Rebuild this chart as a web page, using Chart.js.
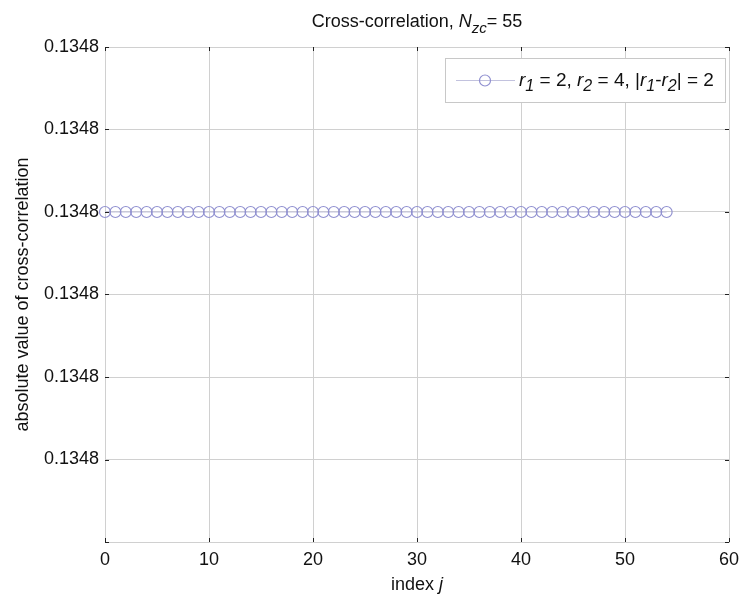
<!DOCTYPE html>
<html>
<head>
<meta charset="utf-8">
<script src="https://cdn.jsdelivr.net/npm/chart.js@4/dist/chart.umd.min.js"></script>
<style>
  html, body { margin: 0; padding: 0; background: #fff; }
  #wrap { width: 742px; height: 594px; position: relative; }
</style>
</head>
<body>
<div id="wrap"><canvas id="c"></canvas></div>
<script>
// lag index j
const indexJ = [0, 1, 2, 3, 4, 5, 6, 7, 8, 9, 10, 11, 12, 13, 14, 15, 16, 17, 18, 19,
  20, 21, 22, 23, 24, 25, 26, 27, 28, 29, 30, 31, 32, 33, 34, 35, 36, 37, 38, 39,
  40, 41, 42, 43, 44, 45, 46, 47, 48, 49, 50, 51, 52, 53, 54];

// |cross-correlation| between ZC roots r1 = 2 and r2 = 4, N_zc = 55
const crossCorr = [0.13483997, 0.13483997, 0.13483997, 0.13483997, 0.13483997,
  0.13483997, 0.13483997, 0.13483997, 0.13483997, 0.13483997, 0.13483997,
  0.13483997, 0.13483997, 0.13483997, 0.13483997, 0.13483997, 0.13483997,
  0.13483997, 0.13483997, 0.13483997, 0.13483997, 0.13483997, 0.13483997,
  0.13483997, 0.13483997, 0.13483997, 0.13483997, 0.13483997, 0.13483997,
  0.13483997, 0.13483997, 0.13483997, 0.13483997, 0.13483997, 0.13483997,
  0.13483997, 0.13483997, 0.13483997, 0.13483997, 0.13483997, 0.13483997,
  0.13483997, 0.13483997, 0.13483997, 0.13483997, 0.13483997, 0.13483997,
  0.13483997, 0.13483997, 0.13483997, 0.13483997, 0.13483997, 0.13483997,
  0.13483997, 0.13483997];

// axis ticks
const xTicks = [0, 10, 20, 30, 40, 50, 60];
const yTicks = [0.13483993, 0.13483994, 0.13483995, 0.13483996, 0.13483997, 0.13483998, 0.13483999];

const FONT = "'Liberation Sans', Arial, Helvetica, sans-serif";
const GRID = '#d0d0d0';
const LINE_COLOR = '#c2c2de';
const MARK_COLOR = '#9090d0';

// draws a run of text pieces; each piece may be italic and/or a subscript
function richWidth(ctx, parts, size, subSize) {
  let w = 0;
  for (const p of parts) {
    ctx.font = (p.it ? 'italic ' : '') + (p.sub ? subSize : size) + 'px ' + FONT;
    w += ctx.measureText(p.t).width;
  }
  return w;
}
function drawRich(ctx, parts, x, y, size, subSize, subDrop) {
  ctx.textAlign = 'left';
  ctx.textBaseline = 'alphabetic';
  for (const p of parts) {
    ctx.font = (p.it ? 'italic ' : '') + (p.sub ? subSize : size) + 'px ' + FONT;
    ctx.fillText(p.t, x, p.sub ? y + subDrop : y);
    x += ctx.measureText(p.t).width;
  }
}

const titleParts = [
  { t: 'Cross-correlation, ' }, { t: 'N', it: true }, { t: 'zc', it: true, sub: true }, { t: '= 55' }
];
const legendParts = [
  { t: 'r', it: true }, { t: '1', it: true, sub: true }, { t: ' = 2, ' },
  { t: 'r', it: true }, { t: '2', it: true, sub: true }, { t: ' = 4, |' },
  { t: 'r', it: true }, { t: '1', it: true, sub: true }, { t: '-' },
  { t: 'r', it: true }, { t: '2', it: true, sub: true }, { t: '| = 2' }
];

const decorations = {
  id: 'decorations',
  afterDraw(chart) {
    const ctx = chart.ctx;
    const a = chart.chartArea;
    const xs = chart.scales.x, ys = chart.scales.y;
    ctx.save();

    // inward tick marks on all four sides
    ctx.strokeStyle = '#222';
    ctx.lineWidth = 1;
    ctx.beginPath();
    for (const v of xTicks) {
      const px = Math.round(xs.getPixelForValue(v)) + 0.5;
      ctx.moveTo(px, a.bottom); ctx.lineTo(px, a.bottom - 4);
      ctx.moveTo(px, a.top); ctx.lineTo(px, a.top + 4);
    }
    for (const v of yTicks) {
      const py = Math.round(ys.getPixelForValue(v)) + 0.5;
      ctx.moveTo(a.left, py); ctx.lineTo(a.left + 4, py);
      ctx.moveTo(a.right, py); ctx.lineTo(a.right - 4, py);
    }
    ctx.stroke();

    ctx.fillStyle = '#111';
    const cx = (a.left + a.right) / 2;

    // title
    const tw = richWidth(ctx, titleParts, 18, 15);
    drawRich(ctx, titleParts, cx - tw / 2, 27, 18, 15, 6);

    // x axis label
    const xl = [{ t: 'index ' }, { t: 'j', it: true }];
    const xw = richWidth(ctx, xl, 18, 18);
    drawRich(ctx, xl, cx - xw / 2, 590, 18, 18, 0);

    // y axis label
    ctx.save();
    ctx.translate(28, (a.top + a.bottom) / 2);
    ctx.rotate(-Math.PI / 2);
    ctx.font = '18px ' + FONT;
    ctx.textAlign = 'center';
    ctx.textBaseline = 'alphabetic';
    ctx.fillText('absolute value of cross-correlation', 0, 0);
    ctx.restore();

    // legend
    const lx = 445, ly = 58, lw = 280, lh = 44;
    ctx.fillStyle = '#fff';
    ctx.fillRect(lx, ly, lw, lh);
    ctx.strokeStyle = '#c8c8c8';
    ctx.strokeRect(lx + 0.5, ly + 0.5, lw, lh);
    const my = ly + lh / 2 + 0.5;
    ctx.strokeStyle = LINE_COLOR;
    ctx.beginPath();
    ctx.moveTo(lx + 11, my); ctx.lineTo(lx + 70, my);
    ctx.stroke();
    ctx.strokeStyle = MARK_COLOR;
    ctx.lineWidth = 1.2;
    ctx.beginPath();
    ctx.arc(lx + 40, my, 5.5, 0, Math.PI * 2);
    ctx.stroke();
    ctx.fillStyle = '#111';
    drawRich(ctx, legendParts, lx + 74, ly + 28, 19, 16, 5);

    ctx.restore();
  }
};

new Chart(document.getElementById('c'), {
  type: 'line',
  data: {
    datasets: [{
      label: 'r1 = 2, r2 = 4, |r1-r2| = 2',
      data: indexJ.map((j, i) => ({ x: j, y: crossCorr[i] })),
      borderColor: LINE_COLOR,
      borderWidth: 1,
      pointStyle: 'circle',
      pointRadius: 5.5,
      pointBorderWidth: 1.2,
      pointBorderColor: MARK_COLOR,
      pointBackgroundColor: 'rgba(0,0,0,0)',
      clip: false
    }]
  },
  options: {
    responsive: true,
    maintainAspectRatio: false,
    animation: false,
    layout: { padding: { top: 47, right: 13, left: 0, bottom: 0 } },
    plugins: { legend: { display: false }, title: { display: false }, tooltip: { enabled: false } },
    scales: {
      x: {
        type: 'linear',
        min: 0, max: 60,
        afterBuildTicks: s => { s.ticks = xTicks.map(v => ({ value: v })); },
        afterFit: s => { s.height = 52; s.paddingLeft = 0; s.paddingRight = 0; },
        grid: { color: GRID, drawTicks: false },
        border: { color: GRID },
        ticks: { padding: 7, color: '#111', font: { family: FONT, size: 18 }, maxRotation: 0 }
      },
      y: {
        type: 'linear',
        min: yTicks[0], max: yTicks[yTicks.length - 1],
        afterBuildTicks: s => { s.ticks = yTicks.map(v => ({ value: v })); },
        afterFit: s => { s.width = 105; s.paddingTop = 0; s.paddingBottom = 0; },
        grid: { color: GRID, drawTicks: false },
        border: { color: GRID },
        ticks: {
          padding: 6, color: '#111', font: { family: FONT, size: 18 },
          callback: v => (v === yTicks[0] ? '' : v.toFixed(4))
        }
      }
    }
  },
  plugins: [decorations]
});
</script>
</body>
</html>
